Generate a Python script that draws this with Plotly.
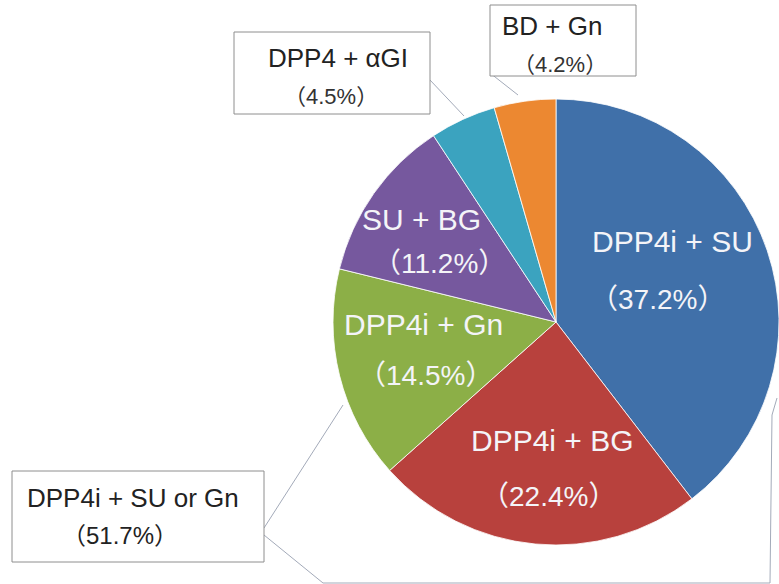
import plotly.graph_objects as go

# Combination therapy shares (%), listed clockwise from 12 o'clock
labels = ["DPP4i + SU", "DPP4i + BG", "DPP4i + Gn", "SU + BG", "DPP4 + αGI", "BD + Gn"]
shares = [37.2, 22.4, 14.5, 11.2, 4.5, 4.2]
colors = ["#4070A9", "#B8413D", "#8CAF47", "#76589E", "#3BA3BF", "#EC8831"]

# Grouped callout: DPP4i combined with SU or Gn
group_label = "DPP4i + SU or Gn"
group_members = ["DPP4i + SU", "DPP4i + Gn"]
group_share = round(sum(s for l, s in zip(labels, shares) if l in group_members), 1)

W, H = 779, 584
FONT = "Liberation Sans, Noto Sans CJK JP, sans-serif"


def P(x, y):
    """Pixel position -> paper coordinates."""
    return x / W, 1 - y / H


def pct(v):
    return f"（{v}%）"


fig = go.Figure(
    go.Pie(
        labels=labels,
        values=shares,
        sort=False,
        direction="clockwise",
        rotation=0,
        marker=dict(colors=colors, line=dict(color="rgba(255,255,255,0.8)", width=1)),
        textinfo="none",
        hoverinfo="label+value",
        showlegend=False,
        domain=dict(x=[333 / W, 1.0], y=[1 - 545 / H, 1 - 99 / H]),
    )
)

annotations = []
shapes = []


def text(x, y, s, size, color):
    ax, ay = P(x, y)
    annotations.append(dict(
        x=ax, y=ay, xref="paper", yref="paper", text=s, showarrow=False,
        xanchor="center", yanchor="middle",
        font=dict(family=FONT, size=size, color=color),
    ))


def line(pts, color="#A3AAB9"):
    for (x0, y0), (x1, y1) in zip(pts[:-1], pts[1:]):
        a0, b0 = P(x0, y0)
        a1, b1 = P(x1, y1)
        shapes.append(dict(type="line", xref="paper", yref="paper",
                           x0=a0, y0=b0, x1=a1, y1=b1,
                           line=dict(color=color, width=1)))


def box(x0, y0, x1, y1):
    a0, b0 = P(x0, y0)
    a1, b1 = P(x1, y1)
    shapes.append(dict(type="rect", xref="paper", yref="paper",
                       x0=a0, y0=b0, x1=a1, y1=b1,
                       line=dict(color="#8E8E8E", width=1), fillcolor="white"))


# In-slice labels (name line, percentage line)
inside_pos = {
    "DPP4i + SU": ((672, 241), (657, 299)),
    "DPP4i + BG": ((552, 440), (548, 496)),
    "DPP4i + Gn": ((423, 325), (425, 375)),
    "SU + BG": ((421, 220), (440, 263)),
}
for lab, val in zip(labels, shares):
    if lab in inside_pos:
        (x1, y1), (x2, y2) = inside_pos[lab]
        text(x1, y1, lab, 30, "#F4F4F8")
        text(x2, y2, pct(val), 28, "#F4F4F8")

# Callout leader lines
line([(430, 80), (464, 116)])
line([(490, 73), (518, 95)])
line([(264, 528), (343, 405)])
line([(264, 535), (323, 583), (770, 583), (772, 415), (777, 398)])

# Callout boxes for the small slices and the grouped share
callouts = {
    "DPP4 + αGI": ((234, 32, 430, 114), (338, 58), (331, 97)),
    "BD + Gn": ((490, 5, 636, 76), (552, 26), (560, 64)),
}
for lab, val in zip(labels, shares):
    if lab in callouts:
        (bx0, by0, bx1, by1), (tx1, ty1), (tx2, ty2) = callouts[lab]
        box(bx0, by0, bx1, by1)
        text(tx1, ty1, lab, 26, "#222222")
        text(tx2, ty2, pct(val), 22, "#333333")

box(12, 471, 264, 562)
text(133, 498, group_label, 26, "#222222")
text(120, 535, pct(group_share), 24, "#222222")

fig.update_layout(
    width=W, height=H,
    margin=dict(l=0, r=0, t=0, b=0),
    paper_bgcolor="white",
    plot_bgcolor="white",
    annotations=annotations,
    shapes=shapes,
)

fig.write_html("out.html")
